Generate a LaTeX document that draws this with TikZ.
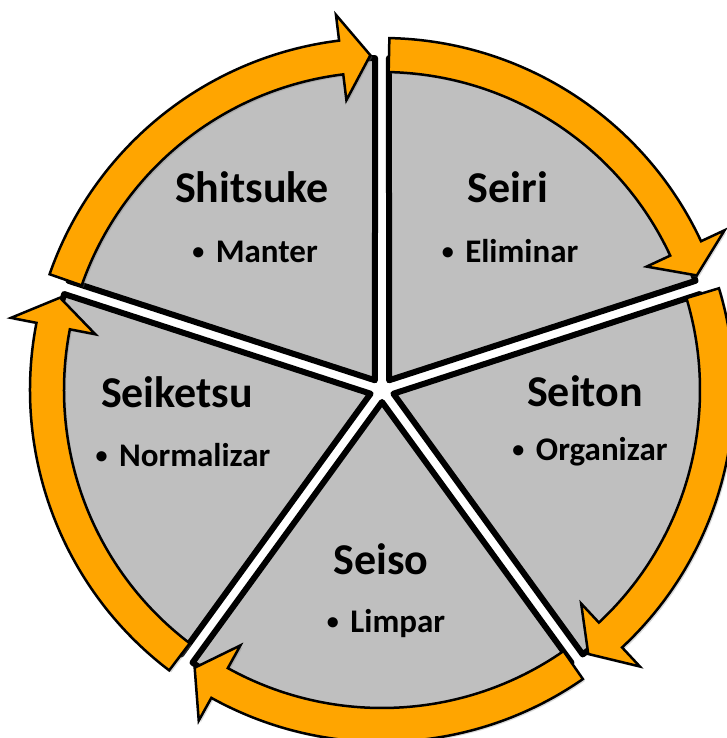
\documentclass[tikz,border=0pt]{standalone}
\usepackage{fontspec}
\setmainfont{Carlito}
\usetikzlibrary{calc,shadows}
\definecolor{wedge}{HTML}{BFBFBF}
\definecolor{ring}{HTML}{FFA500}
\newcommand{\dotitem}{\raisebox{.12em}{\fontsize{24}{24}\selectfont\textbullet}\hspace{.35em}}

\begin{document}
\begin{tikzpicture}[x=1pt,y=1pt,
sector/.style={fill=wedge,draw=black,line width=6pt,line join=round,drop shadow={opacity=.3,shadow xshift=2pt,shadow yshift=-2pt}},
ringarrow/.style={fill=ring,draw=black,line width=2.5pt,line join=miter,drop shadow={opacity=.3,shadow xshift=2pt,shadow yshift=-2pt}},
title/.style={anchor=base,font=\fontsize{44}{50}\selectfont\bfseries},
item/.style={anchor=base,font=\fontsize{33}{38}\selectfont\bfseries}]
\useasboundingbox (0,0) rectangle (726,738);
\coordinate (c) at (382,348);
% five wedges, gap between them
\foreach \a in {90,18,-54,-126,-198}{
  \draw[sector] ($(c)+(\a-36:12)$) -- ($(c)+(\a-1.2:332)$) arc[start angle=\a-1.2,end angle=\a-70.8,radius=332] -- cycle;
}
% ring of arrows, clockwise
\foreach \a in {90,18,-54,-126,-198}{
  \draw[ringarrow] ($(c)+(\a-1.2:352)$) arc[start angle=\a-1.2,end angle=\a-65,radius=352]
    -- ($(c)+(\a-65:378)$) -- ($(c)+(\a-70:335)$) -- ($(c)+(\a-65:292)$) -- ($(c)+(\a-65:318)$)
    arc[start angle=\a-65,end angle=\a-1.2,radius=318] -- cycle;
}
\node[title](seiri) at (508,535){Seiri};
\node[item](eliminar) at (510,475){\dotitem Eliminar};
\node[title](seiton) at (585,331){Seiton};
\node[item](organizar) at (590,277){\dotitem Organizar};
\node[title](seiso) at (381,163){Seiso};
\node[item](limpar) at (386,105){\dotitem Limpar};
\node[title](seiketsu) at (177,330){Seiketsu};
\node[item](normalizar) at (183,271){\dotitem Normalizar};
\node[title](shitsuke) at (252,535){Shitsuke};
\node[item](manter) at (255,475){\dotitem Manter};
\end{tikzpicture}
\end{document}
